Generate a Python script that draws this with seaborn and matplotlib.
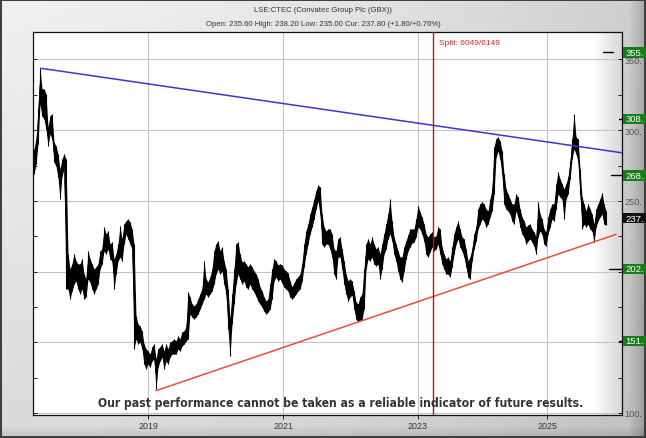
import numpy as np
import matplotlib
matplotlib.use("Agg")
import matplotlib.pyplot as plt
import matplotlib.transforms as mtransforms
from matplotlib.patches import Rectangle
from matplotlib import font_manager
from matplotlib.font_manager import FontProperties
import seaborn as sns

# ---- price data: one bar per ~7 trading sessions (high / low envelope, GBX) ----
high = [
    286.7, 293.8, 315.0, 344.0, 329.1, 329.1, 325.6, 302.2, 310.0, 311.4,
    291.6, 288.8, 283.2, 272.6, 279.6, 283.2, 279.6, 212.4, 201.8, 205.4,
    212.4, 207.5, 205.4, 205.4, 208.9, 198.3, 194.8, 214.6, 208.9, 205.4,
    201.8, 203.3, 205.4, 214.6, 216.0, 231.5, 226.6, 228.7, 219.5, 220.9,
    208.9, 212.4, 219.5, 232.2, 223.1, 233.6, 235.8, 237.2, 235.1, 230.1,
    219.5, 168.6, 162.9, 161.5, 158.0, 148.8, 145.3, 143.8, 141.7, 146.7,
    148.8, 138.2, 145.3, 146.7, 148.8, 143.8, 148.8, 145.3, 150.2, 150.9,
    152.3, 150.9, 154.5, 152.3, 157.3, 158.0, 160.8, 185.6, 182.0, 177.1,
    175.7, 177.1, 180.6, 184.2, 187.7, 207.5, 194.8, 192.6, 196.2, 201.8,
    214.6, 219.5, 221.6, 214.6, 217.4, 207.5, 201.8, 187.7, 166.5, 184.2,
    201.8, 219.5, 220.9, 212.4, 206.8, 207.5, 205.4, 203.3, 205.4, 203.3,
    200.4, 198.3, 194.8, 189.1, 186.3, 182.0, 179.2, 180.6, 191.2, 201.8,
    208.9, 207.5, 204.7, 205.4, 204.7, 201.8, 200.4, 199.0, 193.4, 189.1,
    191.9, 194.8, 196.2, 198.3, 205.4, 219.5, 228.7, 233.6, 240.7, 245.7,
    251.3, 257.0, 261.2, 259.8, 240.7, 231.5, 228.7, 230.1, 230.1, 226.6,
    216.0, 214.6, 223.1, 224.5, 216.0, 207.5, 198.3, 193.4, 194.8, 193.4,
    186.3, 178.5, 177.1, 182.0, 184.2, 201.8, 219.5, 223.1, 219.5, 224.5,
    219.5, 216.0, 217.4, 212.4, 219.5, 226.6, 233.6, 240.7, 251.3, 235.8,
    224.5, 219.5, 214.6, 210.3, 210.3, 217.4, 221.6, 225.9, 230.1, 230.1,
    230.1, 237.2, 246.4, 242.2, 238.6, 233.6, 226.6, 224.5, 226.6, 228.0,
    224.5, 225.2, 231.5, 230.1, 217.4, 212.4, 208.9, 210.3, 207.5, 217.4,
    226.6, 231.5, 235.8, 230.1, 224.5, 223.1, 216.0, 207.5, 210.3, 216.0,
    226.6, 231.5, 244.3, 247.8, 249.2, 247.8, 244.3, 242.9, 251.3, 258.4,
    288.1, 293.8, 295.2, 292.4, 285.3, 269.0, 258.4, 254.9, 251.3, 247.8,
    247.8, 254.9, 252.8, 244.3, 238.6, 235.8, 231.5, 232.9, 233.6, 230.1,
    228.0, 224.5, 249.2, 240.7, 237.2, 230.1, 228.0, 238.6, 244.3, 247.8,
    247.8, 262.0, 270.4, 265.5, 262.0, 258.4, 262.0, 266.9, 277.5, 293.8,
    311.4, 295.2, 293.8, 272.6, 252.8, 247.8, 242.9, 247.8, 244.3, 240.7,
    233.6, 244.3, 247.8, 251.3, 255.6, 247.8, 242.9,
]
low = [
    269.0, 276.1, 290.2, 318.5, 310.0, 307.9, 300.8, 288.8, 297.3, 293.8,
    277.5, 274.7, 266.9, 251.3, 267.6, 272.6, 187.7, 187.7, 180.6, 186.3,
    191.2, 193.4, 187.7, 184.2, 187.7, 180.6, 182.0, 194.8, 192.6, 187.7,
    184.2, 187.7, 191.2, 201.8, 205.4, 214.6, 212.4, 216.0, 208.9, 207.5,
    187.7, 198.3, 207.5, 210.3, 207.5, 219.5, 226.6, 223.1, 219.5, 216.0,
    145.3, 152.3, 148.8, 150.2, 145.3, 134.7, 131.1, 134.7, 132.5, 136.8,
    138.2, 117.0, 132.5, 136.8, 139.6, 131.1, 136.8, 134.7, 139.6, 141.7,
    141.7, 141.7, 145.3, 143.8, 147.4, 148.8, 150.9, 152.3, 170.0, 167.9,
    166.5, 167.9, 170.0, 173.5, 177.1, 180.6, 184.2, 182.0, 184.2, 186.3,
    191.2, 198.3, 201.8, 198.3, 200.4, 191.2, 184.2, 159.4, 140.3, 162.9,
    177.1, 191.2, 198.3, 194.8, 191.2, 193.4, 189.1, 187.7, 191.2, 187.7,
    185.6, 182.7, 179.2, 177.1, 174.9, 172.1, 170.0, 171.4, 173.5, 180.6,
    193.4, 196.2, 193.4, 194.8, 191.9, 189.1, 187.7, 186.3, 182.0, 180.6,
    182.0, 184.2, 186.3, 187.7, 193.4, 203.3, 212.4, 219.5, 226.6, 231.5,
    237.2, 244.3, 249.9, 240.7, 219.5, 217.4, 219.5, 219.5, 216.0, 210.3,
    198.3, 194.8, 210.3, 210.3, 201.8, 191.2, 184.2, 179.2, 182.0, 183.4,
    173.5, 166.5, 164.4, 165.1, 166.5, 173.5, 201.8, 208.9, 207.5, 210.3,
    205.4, 204.0, 205.4, 194.8, 201.8, 212.4, 216.0, 223.1, 226.6, 221.6,
    212.4, 207.5, 200.4, 194.8, 192.6, 200.4, 208.9, 214.6, 217.4, 220.2,
    220.9, 224.5, 231.5, 230.1, 226.6, 221.6, 212.4, 210.3, 213.9, 217.4,
    214.6, 216.0, 219.5, 212.4, 205.4, 201.8, 198.3, 198.3, 196.2, 203.3,
    212.4, 219.5, 223.1, 217.4, 214.6, 210.3, 203.3, 196.2, 194.8, 207.5,
    216.0, 221.6, 230.1, 233.6, 237.2, 235.8, 231.5, 233.6, 238.6, 242.9,
    254.9, 281.0, 285.3, 279.6, 269.0, 247.8, 244.3, 242.9, 240.7, 235.8,
    233.6, 242.9, 238.6, 231.5, 226.6, 224.5, 219.5, 221.6, 223.1, 220.9,
    218.1, 212.4, 224.5, 228.7, 226.6, 219.5, 218.1, 226.6, 231.5, 237.2,
    235.8, 244.3, 254.9, 252.8, 251.3, 237.2, 251.3, 254.9, 265.5, 279.6,
    286.7, 283.2, 278.2, 254.9, 230.1, 233.6, 231.5, 233.6, 230.1, 228.7,
    220.9, 231.5, 235.8, 238.6, 240.7, 233.6, 232.9,
]

# latest session
open_px, high_px, low_px, close_px = 235.60, 238.20, 235.00, 237.80
change, change_pct = 1.80, 0.76

# x-axis: bar positions of the first bar of each year
year_labels = ["2019", "2021", "2023", "2025"]
year_pos = [57.15, 124.65, 191.85, 256.65]
split_pos = 199.5
split_text = "Split: 6049/6149"

# trend channel end points (bar, price)
resist_line = ([3.35, 294.0], [343.8, 284.0])
support_line = ([61.0, 291.0], [115.8, 226.3])

# target levels shown on the price scale
targets = [355, 308, 268, 202, 151]
target_dash = [(0.9677, 0.9847), (0.995, 1.0), (0.9813, 1.0), (0.978, 1.0), (0.995, 1.0)]

y_ticks = [100, 150, 200, 250, 300, 350]
# scale labels that sit under a target box are left blank
y_tick_text = ["100.", "", "", "250.", "300.", "350."]

# ---------------------------------------------------------------------------
sns.set_theme(style="white")
plt.rcParams["font.family"] = ["Liberation Sans", "DejaVu Sans"]


def condensed_bold_font():
    """Pick a narrow/condensed bold face by file, falling back to Liberation Sans Bold."""
    best = None
    for f in font_manager.fontManager.ttflist:
        name = f.name.lower()
        fname = f.fname.lower()
        narrowish = ("narrow" in name or "condensed" in name or "narrow" in fname
                     or "condensed" in fname or "condensed" in str(f.stretch))
        boldish = str(f.weight) in ("bold", "700") or "bold" in fname
        if narrowish and boldish and "oblique" not in fname and "italic" not in fname:
            if "liberation" in fname:
                return FontProperties(fname=f.fname)
            best = best or FontProperties(fname=f.fname)
    if best is not None:
        return best
    return FontProperties(family="Liberation Sans", weight="bold")


W, H = 646, 439
fig = plt.figure(figsize=(W / 100, H / 100), dpi=100)

# bevelled grey frame behind everything
bg = fig.add_axes([0, 0, 1, 1], zorder=-10)
yy, xx = np.mgrid[0:H, 0:W]
u, v = xx / W, yy / H
g = 0.905 - 0.10 * u ** 2 - 0.05 * v + 0.04 * (1 - u) * (1 - v)
g -= 0.16 * np.clip((xx - 628) / 18.0, 0, 1)
g -= 0.10 * np.clip((yy - 426) / 13.0, 0, 1)
g[:2, :] = 0.25
g[-2:, :] = 0.25
g[:, :2] = 0.25
g[:, -2:] = 0.25
bg.imshow(np.dstack([g, g, g]).clip(0, 1), aspect="auto", interpolation="bilinear")
bg.set_axis_off()

ax = fig.add_axes([33 / W, 1 - 416 / H, 589 / W, 383 / H])
ax.set_facecolor("white")

bars = np.arange(len(high))
hi = np.array(high)
lo = np.array(low)
mid = (hi + lo) / 2

# price bars
ax.fill_between(bars, lo, hi, color="black", linewidth=0.0, zorder=3)
ax.vlines(bars, lo, hi, color="black", linewidth=0.8, zorder=3)
sns.lineplot(x=bars, y=mid, ax=ax, color="black", linewidth=0.5, zorder=3)

# trend channel
sns.lineplot(x=resist_line[0], y=resist_line[1], ax=ax, color="#3838d0", linewidth=1.1, zorder=4)
sns.lineplot(x=support_line[0], y=support_line[1], ax=ax, color="#f04a38", linewidth=1.1, zorder=4)

# share split marker
ax.axvline(split_pos, color="#c81010", linewidth=1.0, zorder=4)
ax.text(split_pos + 2.8, 361.7, split_text, color="#e02020", fontsize=6.0,
        va="center", ha="left", zorder=5)

# soft shading toward the price scale
shade = np.linspace(1.0, 0.84, 64)[None, :]
ax.imshow(np.dstack([shade, shade, shade]), extent=[0.95, 1.0, 0, 1], transform=ax.transAxes,
          aspect="auto", zorder=0.5, interpolation="bilinear")
ax.set_xlim(-0.5, 294)
ax.set_ylim(98.58, 369.44)

ax.set_xticks(year_pos)
ax.set_xticklabels(year_labels)
ax.set_yticks(y_ticks)
ax.set_yticklabels(y_tick_text)
ax.set_yticks(np.arange(100, 375, 25), minor=True)
ax.yaxis.tick_right()
ax.grid(True, which="major", color="#c4c4c4", linewidth=0.8, zorder=1)
ax.set_axisbelow(True)
ax.tick_params(axis="y", which="both", left=True, right=True, labelleft=False, labelright=True,
               direction="in", length=3, width=0.7, color="#222", labelsize=6.6,
               labelcolor="#555", pad=2)
ax.tick_params(axis="x", bottom=True, direction="out", length=3, width=0.7, color="#222",
               labelsize=6.4, labelcolor="#333", pad=1)
for s in ax.spines.values():
    s.set_color("#111")
    s.set_linewidth(0.9)

# target labels on the price scale
tr = mtransforms.blended_transform_factory(ax.transAxes, ax.transData)
for (x0, x1), t in zip(target_dash, targets):
    ax.plot([x0, x1], [t, t], transform=tr, color="black", linewidth=1.0, clip_on=False, zorder=6)
    ax.add_patch(Rectangle((1.0015, t - 3.7), 0.06, 7.4, transform=tr, facecolor="#1b7a1b",
                           edgecolor="none", clip_on=False, zorder=7))
    ax.text(1.006, t, f"{t}.", transform=tr, color="white", fontsize=6.8, va="center",
            ha="left", clip_on=False, zorder=8)
ax.add_patch(Rectangle((1.0015, close_px - 3.7), 0.06, 7.4, transform=tr, facecolor="#111111",
                       edgecolor="none", clip_on=False, zorder=7))
ax.text(1.006, close_px, f"{int(close_px)}.", transform=tr, color="white", fontsize=6.8,
        va="center", ha="left", clip_on=False, zorder=8)

# header
fig.text(0.5, 1 - 10.5 / H, "LSE:CTEC (Convatec Group Plc (GBX))", ha="center", va="center",
         fontsize=5.6, color="#333")
fig.text(0.5, 1 - 24.5 / H,
         f"Open: {open_px:.2f} High: {high_px:.2f} Low: {low_px:.2f} Cur: {close_px:.2f} "
         f"(+{change:.2f}/+{change_pct:.2f}%)",
         ha="center", va="center", fontsize=5.6, color="#333")

# disclaimer, sized to span the plot width it occupies
disclaimer = "Our past performance cannot be taken as a reliable indicator of future results."
fp = condensed_bold_font()
fp.set_size(10.5)
note = fig.text(341 / W, 1 - 404 / H, disclaimer, ha="center", va="center",
                fontproperties=fp, color="#333", zorder=10)
renderer = fig.canvas.get_renderer()
span = note.get_window_extent(renderer).width
fp.set_size(min(10.5, 10.5 * 488.0 / span))
note.set_fontproperties(fp)

fig.savefig("out.png", dpi=100)
